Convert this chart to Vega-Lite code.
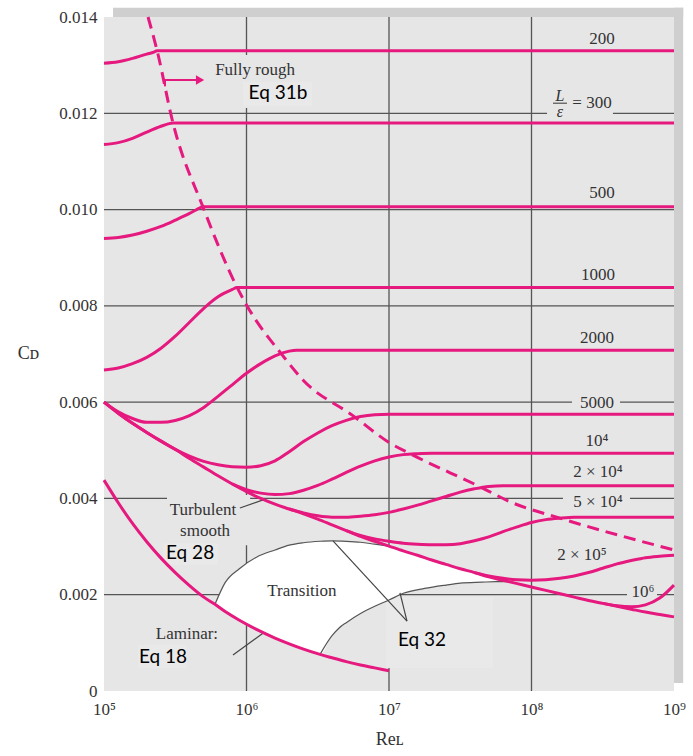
{
  "$schema": "https://vega.github.io/schema/vega-lite/v6.json",
  "width": 570,
  "height": 674,
  "autosize": {"type": "none"},
  "padding": {"left": 104, "top": 17, "right": 19, "bottom": 65},
  "background": "white",
  "config": {
    "view": {"fill": "#e6e6e7", "stroke": null},
    "text": {"font": "Liberation Serif"}
  },
  "datasets": {
    "shadow": [
      {"x": 1.157e5, "x2": 1.16e9, "y": 0.014, "y2": 0.01419},
      {"x": 1e9, "x2": 1.16e9, "y": 0.000166, "y2": 0.01419}
    ],
    "grid": [
      {"x": 1e6, "x2": 1e6, "y": 0, "y2": 0.014},
      {"x": 1e7, "x2": 1e7, "y": 0, "y2": 0.014},
      {"x": 1e8, "x2": 1e8, "y": 0, "y2": 0.014},
      {"x": 1e5, "x2": 1e9, "y": 0.002, "y2": 0.002},
      {"x": 1e5, "x2": 1e9, "y": 0.004, "y2": 0.004},
      {"x": 1e5, "x2": 1e9, "y": 0.006, "y2": 0.006},
      {"x": 1e5, "x2": 1e9, "y": 0.008, "y2": 0.008},
      {"x": 1e5, "x2": 1e9, "y": 0.010, "y2": 0.010},
      {"x": 1e5, "x2": 1e9, "y": 0.012, "y2": 0.012}
    ],
    "gaps": [
      {"x": 1.285e8, "x2": 3.73e8, "y": 0.01195, "y2": 0.01205},
      {"x": 1.923e8, "x2": 4.18e8, "y": 0.00595, "y2": 0.00605},
      {"x": 1.663e8, "x2": 4.91e8, "y": 0.00395, "y2": 0.00405},
      {"x": 4.68e8, "x2": 7.6e8, "y": 0.00195, "y2": 0.00205},
      {"x": 5.12e5, "x2": 2.884e6, "y": 0.01211, "y2": 0.01321},
      {"x": 2.767e5, "x2": 1.06e6, "y": 0.00303, "y2": 0.00407}
    ],
    "boxes": [
      {"x": 9.44e5, "x2": 2.884e6, "y": 0.01215, "y2": 0.01265},
      {"x": 2.594e5, "x2": 6.31e5, "y": 0.00262, "y2": 0.00307},
      {"x": 1.734e5, "x2": 3.82e5, "y": 0.000478, "y2": 0.000955},
      {"x": 9.53e6, "x2": 5.37e7, "y": 0.000478, "y2": 0.00195}
    ],
    "transition": [
      {"x": 6.01e5, "y": 0.0018, "y2": 0.0018},
      {"x": 7.079e5, "y": 0.00225, "y2": 0.00165},
      {"x": 8.913e5, "y": 0.00254, "y2": 0.00147},
      {"x": 1.175e6, "y": 0.00278, "y2": 0.00128},
      {"x": 1.585e6, "y": 0.00293, "y2": 0.0011},
      {"x": 1.995e6, "y": 0.00303, "y2": 0.00098},
      {"x": 2.512e6, "y": 0.00308, "y2": 0.00087},
      {"x": 3.281e6, "y": 0.00311, "y2": 0.00076},
      {"x": 3.981e6, "y": 0.00312, "y2": 0.00115},
      {"x": 4.467e6, "y": 0.00312, "y2": 0.00131},
      {"x": 5.012e6, "y": 0.00311, "y2": 0.00142},
      {"x": 6.31e6, "y": 0.00309, "y2": 0.00161},
      {"x": 7.943e6, "y": 0.00305, "y2": 0.00176},
      {"x": 1e7, "y": 0.00301, "y2": 0.00189},
      {"x": 1.259e7, "y": 0.00291, "y2": 0.00203},
      {"x": 1.778e7, "y": 0.00277, "y2": 0.00213},
      {"x": 2.512e7, "y": 0.00263, "y2": 0.0022},
      {"x": 3.162e7, "y": 0.00254, "y2": 0.00224},
      {"x": 4.467e7, "y": 0.00241, "y2": 0.00226},
      {"x": 5.623e7, "y": 0.00233, "y2": 0.00227},
      {"x": 7.079e7, "y": 0.00227, "y2": 0.00227}
    ],
    "arcs": [
      {"s": "upper", "x": 6.01e5, "y": 0.0018},
      {"s": "upper", "x": 7.079e5, "y": 0.00225},
      {"s": "upper", "x": 8.913e5, "y": 0.00254},
      {"s": "upper", "x": 1.175e6, "y": 0.00278},
      {"s": "upper", "x": 1.585e6, "y": 0.00293},
      {"s": "upper", "x": 1.995e6, "y": 0.00303},
      {"s": "upper", "x": 2.512e6, "y": 0.00308},
      {"s": "upper", "x": 3.281e6, "y": 0.00311},
      {"s": "upper", "x": 3.981e6, "y": 0.00312},
      {"s": "upper", "x": 5.012e6, "y": 0.00311},
      {"s": "upper", "x": 6.31e6, "y": 0.00309},
      {"s": "upper", "x": 7.943e6, "y": 0.00305},
      {"s": "upper", "x": 1e7, "y": 0.00301},
      {"s": "lower", "x": 3.281e6, "y": 0.00076},
      {"s": "lower", "x": 3.981e6, "y": 0.00115},
      {"s": "lower", "x": 4.467e6, "y": 0.00131},
      {"s": "lower", "x": 5.012e6, "y": 0.00142},
      {"s": "lower", "x": 6.31e6, "y": 0.00161},
      {"s": "lower", "x": 7.943e6, "y": 0.00176},
      {"s": "lower", "x": 1e7, "y": 0.00189},
      {"s": "lower", "x": 1.259e7, "y": 0.00203},
      {"s": "lower", "x": 1.778e7, "y": 0.00213},
      {"s": "lower", "x": 2.512e7, "y": 0.0022},
      {"s": "lower", "x": 3.162e7, "y": 0.00224},
      {"s": "lower", "x": 4.467e7, "y": 0.00226},
      {"s": "lower", "x": 5.623e7, "y": 0.00227},
      {"s": "lower", "x": 7.079e7, "y": 0.00227}
    ],
    "leaders": [
      {"x": 8.99e5, "y": 0.0038, "x2": 1.306e6, "y2": 0.00397},
      {"x": 8.04e5, "y": 0.000748, "x2": 1.318e6, "y2": 0.00121},
      {"x": 1.337e7, "y": 0.00145, "x2": 4.046e6, "y2": 0.00312},
      {"x": 1.337e7, "y": 0.00145, "x2": 1.194e7, "y2": 0.00204}
    ],
    "curves": [
      {"s": "200", "x": 1e5, "y": 0.01304},
      {"s": "200", "x": 1.259e5, "y": 0.01307},
      {"s": "200", "x": 1.585e5, "y": 0.01314},
      {"s": "200", "x": 1.995e5, "y": 0.01323},
      {"s": "200", "x": 2.239e5, "y": 0.01327},
      {"s": "200", "x": 2.355e5, "y": 0.0133},
      {"s": "200", "x": 1e9, "y": 0.0133},
      {"s": "300", "x": 1e5, "y": 0.01135},
      {"s": "300", "x": 1.259e5, "y": 0.01139},
      {"s": "300", "x": 1.585e5, "y": 0.01148},
      {"s": "300", "x": 1.995e5, "y": 0.01161},
      {"s": "300", "x": 2.512e5, "y": 0.01173},
      {"s": "300", "x": 2.818e5, "y": 0.01178},
      {"s": "300", "x": 3.05e5, "y": 0.0118},
      {"s": "300", "x": 1e9, "y": 0.0118},
      {"s": "500", "x": 1e5, "y": 0.0094},
      {"s": "500", "x": 1.259e5, "y": 0.00942},
      {"s": "500", "x": 1.585e5, "y": 0.00947},
      {"s": "500", "x": 1.995e5, "y": 0.00955},
      {"s": "500", "x": 2.512e5, "y": 0.00965},
      {"s": "500", "x": 3.162e5, "y": 0.00978},
      {"s": "500", "x": 3.981e5, "y": 0.00992},
      {"s": "500", "x": 4.467e5, "y": 0.01},
      {"s": "500", "x": 4.955e5, "y": 0.01006},
      {"s": "500", "x": 1e9, "y": 0.01006},
      {"s": "1000", "x": 1e5, "y": 0.00667},
      {"s": "1000", "x": 1.259e5, "y": 0.00671},
      {"s": "1000", "x": 1.585e5, "y": 0.0068},
      {"s": "1000", "x": 1.995e5, "y": 0.00693},
      {"s": "1000", "x": 2.512e5, "y": 0.00712},
      {"s": "1000", "x": 3.162e5, "y": 0.00737},
      {"s": "1000", "x": 3.981e5, "y": 0.00766},
      {"s": "1000", "x": 5.012e5, "y": 0.00795},
      {"s": "1000", "x": 6.31e5, "y": 0.00819},
      {"s": "1000", "x": 7.943e5, "y": 0.00834},
      {"s": "1000", "x": 8.57e5, "y": 0.00838},
      {"s": "1000", "x": 1e9, "y": 0.00838},
      {"s": "2000", "x": 1e5, "y": 0.006},
      {"s": "2000", "x": 1.259e5, "y": 0.0058},
      {"s": "2000", "x": 1.585e5, "y": 0.00566},
      {"s": "2000", "x": 1.995e5, "y": 0.00558},
      {"s": "2000", "x": 2.512e5, "y": 0.00558},
      {"s": "2000", "x": 3.162e5, "y": 0.00562},
      {"s": "2000", "x": 3.981e5, "y": 0.00572},
      {"s": "2000", "x": 5.012e5, "y": 0.00589},
      {"s": "2000", "x": 6.31e5, "y": 0.00612},
      {"s": "2000", "x": 7.943e5, "y": 0.00636},
      {"s": "2000", "x": 1e6, "y": 0.0066},
      {"s": "2000", "x": 1.259e6, "y": 0.0068},
      {"s": "2000", "x": 1.585e6, "y": 0.00696},
      {"s": "2000", "x": 1.995e6, "y": 0.00706},
      {"s": "2000", "x": 2.239e6, "y": 0.00708},
      {"s": "2000", "x": 1e9, "y": 0.00708},
      {"s": "5000", "x": 1e5, "y": 0.006},
      {"s": "5000", "x": 1.259e5, "y": 0.00577},
      {"s": "5000", "x": 1.585e5, "y": 0.00556},
      {"s": "5000", "x": 1.995e5, "y": 0.00537},
      {"s": "5000", "x": 2.512e5, "y": 0.00519},
      {"s": "5000", "x": 3.162e5, "y": 0.00502},
      {"s": "5000", "x": 3.981e5, "y": 0.00488},
      {"s": "5000", "x": 5.012e5, "y": 0.00477},
      {"s": "5000", "x": 6.31e5, "y": 0.0047},
      {"s": "5000", "x": 7.943e5, "y": 0.00466},
      {"s": "5000", "x": 1e6, "y": 0.00465},
      {"s": "5000", "x": 1.259e6, "y": 0.00468},
      {"s": "5000", "x": 1.585e6, "y": 0.00478},
      {"s": "5000", "x": 1.995e6, "y": 0.00497},
      {"s": "5000", "x": 2.512e6, "y": 0.00518},
      {"s": "5000", "x": 3.162e6, "y": 0.00536},
      {"s": "5000", "x": 3.981e6, "y": 0.00551},
      {"s": "5000", "x": 5.012e6, "y": 0.00562},
      {"s": "5000", "x": 6.31e6, "y": 0.0057},
      {"s": "5000", "x": 7.943e6, "y": 0.00574},
      {"s": "5000", "x": 1e7, "y": 0.00575},
      {"s": "5000", "x": 1e9, "y": 0.00575},
      {"s": "1e4", "x": 7.943e5, "y": 0.0043},
      {"s": "1e4", "x": 1e6, "y": 0.00418},
      {"s": "1e4", "x": 1.259e6, "y": 0.00411},
      {"s": "1e4", "x": 1.585e6, "y": 0.00408},
      {"s": "1e4", "x": 1.995e6, "y": 0.0041},
      {"s": "1e4", "x": 2.512e6, "y": 0.00417},
      {"s": "1e4", "x": 3.162e6, "y": 0.00427},
      {"s": "1e4", "x": 3.981e6, "y": 0.0044},
      {"s": "1e4", "x": 5.012e6, "y": 0.00454},
      {"s": "1e4", "x": 6.31e6, "y": 0.00467},
      {"s": "1e4", "x": 7.943e6, "y": 0.00478},
      {"s": "1e4", "x": 1e7, "y": 0.00486},
      {"s": "1e4", "x": 1.259e7, "y": 0.00491},
      {"s": "1e4", "x": 1.585e7, "y": 0.00493},
      {"s": "1e4", "x": 1.995e7, "y": 0.00494},
      {"s": "1e4", "x": 1e9, "y": 0.00494},
      {"s": "2e4", "x": 1.995e6, "y": 0.00378},
      {"s": "2e4", "x": 2.512e6, "y": 0.0037},
      {"s": "2e4", "x": 3.162e6, "y": 0.00364},
      {"s": "2e4", "x": 3.981e6, "y": 0.00361},
      {"s": "2e4", "x": 5.012e6, "y": 0.00361},
      {"s": "2e4", "x": 6.31e6, "y": 0.00363},
      {"s": "2e4", "x": 7.943e6, "y": 0.00366},
      {"s": "2e4", "x": 1e7, "y": 0.00371},
      {"s": "2e4", "x": 1.259e7, "y": 0.00378},
      {"s": "2e4", "x": 1.585e7, "y": 0.00386},
      {"s": "2e4", "x": 1.995e7, "y": 0.00395},
      {"s": "2e4", "x": 2.512e7, "y": 0.00404},
      {"s": "2e4", "x": 3.162e7, "y": 0.00413},
      {"s": "2e4", "x": 3.981e7, "y": 0.0042},
      {"s": "2e4", "x": 5.012e7, "y": 0.00425},
      {"s": "2e4", "x": 6.31e7, "y": 0.004264},
      {"s": "2e4", "x": 1e9, "y": 0.004264},
      {"s": "5e4", "x": 5.012e6, "y": 0.00333},
      {"s": "5e4", "x": 6.31e6, "y": 0.00323},
      {"s": "5e4", "x": 7.943e6, "y": 0.00316},
      {"s": "5e4", "x": 1e7, "y": 0.00311},
      {"s": "5e4", "x": 1.259e7, "y": 0.00307},
      {"s": "5e4", "x": 1.585e7, "y": 0.00305},
      {"s": "5e4", "x": 1.995e7, "y": 0.00304},
      {"s": "5e4", "x": 2.512e7, "y": 0.00304},
      {"s": "5e4", "x": 3.162e7, "y": 0.00306},
      {"s": "5e4", "x": 3.981e7, "y": 0.00312},
      {"s": "5e4", "x": 5.012e7, "y": 0.0032},
      {"s": "5e4", "x": 6.31e7, "y": 0.00331},
      {"s": "5e4", "x": 7.943e7, "y": 0.00341},
      {"s": "5e4", "x": 1e8, "y": 0.0035},
      {"s": "5e4", "x": 1.259e8, "y": 0.00356},
      {"s": "5e4", "x": 1.585e8, "y": 0.00359},
      {"s": "5e4", "x": 1.995e8, "y": 0.003607},
      {"s": "5e4", "x": 1e9, "y": 0.003607},
      {"s": "2e5", "x": 3.981e7, "y": 0.00246},
      {"s": "2e5", "x": 5.012e7, "y": 0.00239},
      {"s": "2e5", "x": 6.31e7, "y": 0.00234},
      {"s": "2e5", "x": 7.943e7, "y": 0.00231},
      {"s": "2e5", "x": 1e8, "y": 0.0023},
      {"s": "2e5", "x": 1.259e8, "y": 0.00231},
      {"s": "2e5", "x": 1.585e8, "y": 0.00234},
      {"s": "2e5", "x": 1.995e8, "y": 0.00239},
      {"s": "2e5", "x": 2.512e8, "y": 0.00246},
      {"s": "2e5", "x": 3.162e8, "y": 0.00255},
      {"s": "2e5", "x": 3.981e8, "y": 0.00264},
      {"s": "2e5", "x": 5.012e8, "y": 0.00271},
      {"s": "2e5", "x": 6.31e8, "y": 0.00277},
      {"s": "2e5", "x": 7.943e8, "y": 0.0028},
      {"s": "2e5", "x": 1e9, "y": 0.00282},
      {"s": "1e6", "x": 3.162e8, "y": 0.00182},
      {"s": "1e6", "x": 3.981e8, "y": 0.00177},
      {"s": "1e6", "x": 5.012e8, "y": 0.00175},
      {"s": "1e6", "x": 6.31e8, "y": 0.00179},
      {"s": "1e6", "x": 7.943e8, "y": 0.00193},
      {"s": "1e6", "x": 1e9, "y": 0.0022},
      {"s": "smooth", "x": 1e5, "y": 0.006},
      {"s": "smooth", "x": 1.259e5, "y": 0.00577},
      {"s": "smooth", "x": 1.585e5, "y": 0.00556},
      {"s": "smooth", "x": 1.995e5, "y": 0.00537},
      {"s": "smooth", "x": 2.512e5, "y": 0.00519},
      {"s": "smooth", "x": 3.162e5, "y": 0.00502},
      {"s": "smooth", "x": 3.981e5, "y": 0.00483},
      {"s": "smooth", "x": 5.012e5, "y": 0.00465},
      {"s": "smooth", "x": 6.31e5, "y": 0.00447},
      {"s": "smooth", "x": 7.943e5, "y": 0.0043},
      {"s": "smooth", "x": 1e6, "y": 0.00414},
      {"s": "smooth", "x": 1.259e6, "y": 0.004},
      {"s": "smooth", "x": 1.585e6, "y": 0.00388},
      {"s": "smooth", "x": 1.995e6, "y": 0.00378},
      {"s": "smooth", "x": 2.512e6, "y": 0.00368},
      {"s": "smooth", "x": 3.162e6, "y": 0.00357},
      {"s": "smooth", "x": 3.981e6, "y": 0.00345},
      {"s": "smooth", "x": 5.012e6, "y": 0.00333},
      {"s": "smooth", "x": 6.31e6, "y": 0.00321},
      {"s": "smooth", "x": 7.943e6, "y": 0.00311},
      {"s": "smooth", "x": 1e7, "y": 0.00301},
      {"s": "smooth", "x": 1.259e7, "y": 0.00291},
      {"s": "smooth", "x": 1.585e7, "y": 0.00282},
      {"s": "smooth", "x": 1.995e7, "y": 0.00272},
      {"s": "smooth", "x": 2.512e7, "y": 0.00263},
      {"s": "smooth", "x": 3.162e7, "y": 0.00254},
      {"s": "smooth", "x": 3.981e7, "y": 0.00246},
      {"s": "smooth", "x": 5.012e7, "y": 0.00237},
      {"s": "smooth", "x": 6.31e7, "y": 0.0023},
      {"s": "smooth", "x": 7.943e7, "y": 0.00223},
      {"s": "smooth", "x": 1e8, "y": 0.00216},
      {"s": "smooth", "x": 1.259e8, "y": 0.00209},
      {"s": "smooth", "x": 1.585e8, "y": 0.00202},
      {"s": "smooth", "x": 1.995e8, "y": 0.00195},
      {"s": "smooth", "x": 2.512e8, "y": 0.00188},
      {"s": "smooth", "x": 3.162e8, "y": 0.00182},
      {"s": "smooth", "x": 3.981e8, "y": 0.00176},
      {"s": "smooth", "x": 5.012e8, "y": 0.0017},
      {"s": "smooth", "x": 6.31e8, "y": 0.00164},
      {"s": "smooth", "x": 7.943e8, "y": 0.00159},
      {"s": "smooth", "x": 1e9, "y": 0.00154},
      {"s": "laminar", "x": 1e5, "y": 0.00438},
      {"s": "laminar", "x": 1.259e5, "y": 0.00391},
      {"s": "laminar", "x": 1.585e5, "y": 0.00348},
      {"s": "laminar", "x": 1.995e5, "y": 0.0031},
      {"s": "laminar", "x": 2.512e5, "y": 0.00276},
      {"s": "laminar", "x": 3.162e5, "y": 0.00246},
      {"s": "laminar", "x": 3.981e5, "y": 0.00219},
      {"s": "laminar", "x": 5.012e5, "y": 0.00195},
      {"s": "laminar", "x": 6.01e5, "y": 0.0018},
      {"s": "laminar", "x": 7.079e5, "y": 0.00165},
      {"s": "laminar", "x": 8.913e5, "y": 0.00147},
      {"s": "laminar", "x": 1.175e6, "y": 0.00128},
      {"s": "laminar", "x": 1.585e6, "y": 0.0011},
      {"s": "laminar", "x": 1.995e6, "y": 0.00098},
      {"s": "laminar", "x": 2.512e6, "y": 0.00087},
      {"s": "laminar", "x": 3.281e6, "y": 0.00076},
      {"s": "laminar", "x": 3.981e6, "y": 0.00069},
      {"s": "laminar", "x": 5.012e6, "y": 0.00061},
      {"s": "laminar", "x": 6.31e6, "y": 0.00054},
      {"s": "laminar", "x": 7.943e6, "y": 0.00048},
      {"s": "laminar", "x": 1e7, "y": 0.00042}
    ],
    "rough": [
      {"x": 2.037e5, "y": 0.014},
      {"x": 2.355e5, "y": 0.01331},
      {"x": 3.048e5, "y": 0.0118},
      {"x": 4.955e5, "y": 0.01005},
      {"x": 8.57e5, "y": 0.00839},
      {"x": 1e6, "y": 0.00802},
      {"x": 1.803e6, "y": 0.00696},
      {"x": 2.489e6, "y": 0.00646},
      {"x": 5.585e6, "y": 0.00572},
      {"x": 1.016e7, "y": 0.00515},
      {"x": 1.472e7, "y": 0.0049},
      {"x": 4.365e7, "y": 0.00424},
      {"x": 7.079e7, "y": 0.00393},
      {"x": 1.585e8, "y": 0.00359},
      {"x": 1e9, "y": 0.00293}
    ],
    "arrow": [
      {"x": 2.594e5, "x2": 4.9e5, "y": 0.01269, "y2": 0.01269},
      {"x": 2.68e5, "x2": 2.68e5, "y": 0.01269, "y2": 0.01256}
    ],
    "arrowhead": [{"x": 4.72e5, "y": 0.01269}],
    "fracbar": [{"x": 1.416e8, "x2": 1.774e8, "y": 0.01221, "y2": 0.01221}],
    "serif": [
      {"t": "200", "x": 3.126e8, "y": 0.01354},
      {"t": "= 300", "x": 2.66e8, "y": 0.01221},
      {"t": "500", "x": 3.126e8, "y": 0.01034},
      {"t": "1000", "x": 2.93e8, "y": 0.00864},
      {"t": "2000", "x": 2.884e8, "y": 0.00733},
      {"t": "5000", "x": 2.884e8, "y": 0.00598},
      {"t": "10⁴", "x": 2.884e8, "y": 0.00519},
      {"t": "2 × 10⁴", "x": 2.93e8, "y": 0.00455},
      {"t": "5 × 10⁴", "x": 2.93e8, "y": 0.003925},
      {"t": "2 × 10⁵", "x": 2.26e8, "y": 0.002824},
      {"t": "10⁶", "x": 6.05e8, "y": 0.002056},
      {"t": "Fully rough", "x": 1.148e6, "y": 0.0129},
      {"t": "Turbulent", "x": 4.955e5, "y": 0.00376},
      {"t": "smooth", "x": 5.12e5, "y": 0.00332},
      {"t": "Transition", "x": 2.449e6, "y": 0.00208},
      {"t": "Laminar:", "x": 3.82e5, "y": 0.00118}
    ],
    "italic": [
      {"t": "L", "x": 1.585e8, "y": 0.01236},
      {"t": "ε", "x": 1.585e8, "y": 0.01203}
    ],
    "sans": [
      {"t": "Eq 31b", "x": 1.663e6, "y": 0.01242},
      {"t": "Eq 28", "x": 4.02e5, "y": 0.002866},
      {"t": "Eq 18", "x": 2.594e5, "y": 0.000706},
      {"t": "Eq 32", "x": 1.706e7, "y": 0.00106}
    ]
  },
  "encoding": {
    "x": {
      "field": "x",
      "type": "quantitative",
      "scale": {"type": "log", "domain": [100000, 1000000000]},
      "axis": {
        "values": [100000, 1000000, 10000000, 100000000, 1000000000],
        "labelExpr": "datum.value < 500000 ? '10⁵' : datum.value < 5000000 ? '10⁶' : datum.value < 50000000 ? '10⁷' : datum.value < 500000000 ? '10⁸' : '10⁹'",
        "grid": false,
        "ticks": false,
        "domain": false,
        "labelFont": "Liberation Serif",
        "labelFontSize": 17,
        "labelColor": "#333333",
        "labelPadding": 10,
        "labelFlush": false,
        "labelOverlap": false,
        "title": "Reʟ",
        "titleFont": "Liberation Serif",
        "titleFontSize": 18,
        "titleFontWeight": "normal",
        "titleColor": "#333333",
        "titlePadding": 13
      }
    },
    "y": {
      "field": "y",
      "type": "quantitative",
      "scale": {"domain": [0, 0.014], "nice": false, "zero": false},
      "axis": {
        "values": [0, 0.002, 0.004, 0.006, 0.008, 0.010, 0.012, 0.014],
        "labelExpr": "datum.value == 0 ? '0' : format(datum.value, '.3f')",
        "grid": false,
        "ticks": false,
        "domain": false,
        "labelFont": "Liberation Serif",
        "labelFontSize": 17,
        "labelColor": "#333333",
        "labelPadding": 7,
        "labelOverlap": false,
        "title": "Cᴅ",
        "titleFont": "Liberation Serif",
        "titleFontSize": 18,
        "titleFontWeight": "normal",
        "titleColor": "#333333",
        "titleAngle": 0,
        "titleAlign": "center",
        "titleBaseline": "middle",
        "titleX": -76,
        "titleY": 336
      }
    }
  },
  "layer": [
    {
      "data": {"name": "shadow"},
      "mark": {"type": "rect", "color": "#cfcfd0"},
      "encoding": {"x2": {"field": "x2"}, "y2": {"field": "y2"}}
    },
    {
      "data": {"name": "grid"},
      "mark": {"type": "rule", "color": "#555555", "strokeWidth": 1.3},
      "encoding": {"x2": {"field": "x2"}, "y2": {"field": "y2"}}
    },
    {
      "data": {"name": "gaps"},
      "mark": {"type": "rect", "color": "#e6e6e7"},
      "encoding": {"x2": {"field": "x2"}, "y2": {"field": "y2"}}
    },
    {
      "data": {"name": "boxes"},
      "mark": {"type": "rect", "color": "#e9e9ea"},
      "encoding": {"x2": {"field": "x2"}, "y2": {"field": "y2"}}
    },
    {
      "data": {"name": "transition"},
      "mark": {"type": "area", "color": "white", "interpolate": "monotone"},
      "encoding": {"y2": {"field": "y2"}}
    },
    {
      "data": {"name": "arcs"},
      "mark": {"type": "line", "color": "#555555", "strokeWidth": 1.2, "interpolate": "monotone"},
      "encoding": {"detail": {"field": "s"}}
    },
    {
      "data": {"name": "leaders"},
      "mark": {"type": "rule", "color": "#444444", "strokeWidth": 1.2},
      "encoding": {"x2": {"field": "x2"}, "y2": {"field": "y2"}}
    },
    {
      "data": {"name": "curves"},
      "mark": {"type": "line", "color": "#e5197e", "strokeWidth": 3, "interpolate": "monotone"},
      "encoding": {"detail": {"field": "s"}}
    },
    {
      "data": {"name": "rough"},
      "mark": {"type": "line", "color": "#e5197e", "strokeWidth": 3, "strokeDash": [12, 7], "strokeCap": "butt", "interpolate": "monotone"},
      "encoding": {}
    },
    {
      "data": {"name": "arrow"},
      "mark": {"type": "rule", "color": "#e5197e", "strokeWidth": 2},
      "encoding": {"x2": {"field": "x2"}, "y2": {"field": "y2"}}
    },
    {
      "data": {"name": "arrowhead"},
      "mark": {"type": "point", "shape": "triangle-right", "filled": true, "color": "#e5197e", "size": 90, "opacity": 1},
      "encoding": {}
    },
    {
      "data": {"name": "fracbar"},
      "mark": {"type": "rule", "color": "#333333", "strokeWidth": 1},
      "encoding": {"x2": {"field": "x2"}, "y2": {"field": "y2"}}
    },
    {
      "data": {"name": "serif"},
      "mark": {"type": "text", "font": "Liberation Serif", "fontSize": 17, "color": "#333333", "baseline": "middle", "align": "center"},
      "encoding": {"text": {"field": "t"}}
    },
    {
      "data": {"name": "italic"},
      "mark": {"type": "text", "font": "Liberation Serif", "fontStyle": "italic", "fontSize": 16, "color": "#333333", "baseline": "middle", "align": "center"},
      "encoding": {"text": {"field": "t"}}
    },
    {
      "data": {"name": "sans"},
      "mark": {"type": "text", "font": "Lato", "fontSize": 19, "color": "#000000", "baseline": "middle", "align": "center"},
      "encoding": {"text": {"field": "t"}}
    }
  ]
}
